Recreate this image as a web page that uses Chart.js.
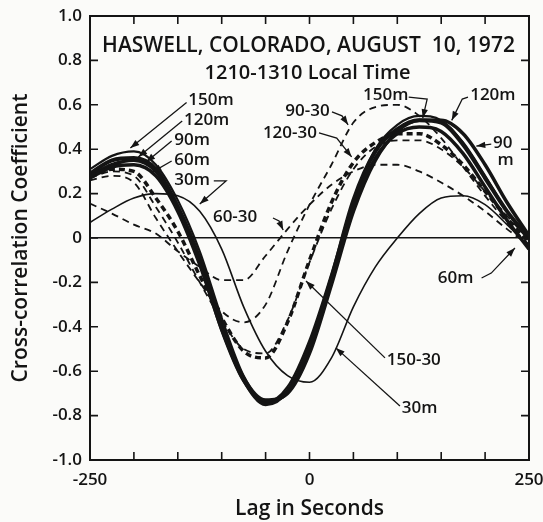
<!DOCTYPE html>
<html>
<head>
<meta charset="utf-8">
<script src="https://cdn.jsdelivr.net/npm/chart.js@4"></script>
<style>
  html, body { margin: 0; padding: 0; background: #fbfbf9; }
  #wrap { width: 543px; height: 522px; }
</style>
</head>
<body>
<div id="wrap"><canvas id="chart" width="543" height="522"></canvas></div>
<script>
// lag in seconds, shared by every curve
const lags = [-250, -225, -200, -175, -150, -125, -100, -75, -50, -25, 0, 25, 50, 75, 100, 125, 150, 175, 200, 225, 250];

// cross-correlation of each height (solid) and of the differences (dashed)
const r150m = [0.31, 0.37, 0.39, 0.33, 0.17, -0.06, -0.36, -0.62, -0.74, -0.67, -0.46, -0.16, 0.17, 0.40, 0.51, 0.55, 0.53, 0.43, 0.28, 0.12, -0.01];
const r120m = [0.29, 0.35, 0.36, 0.31, 0.14, -0.10, -0.41, -0.64, -0.74, -0.69, -0.49, -0.18, 0.17, 0.39, 0.49, 0.53, 0.52, 0.42, 0.27, 0.12, 0.00];
const r90m = [0.28, 0.33, 0.35, 0.30, 0.14, -0.09, -0.39, -0.63, -0.73, -0.70, -0.52, -0.21, 0.12, 0.35, 0.48, 0.53, 0.53, 0.47, 0.33, 0.16, 0.01];
const r60m = [0.27, 0.32, 0.33, 0.28, 0.12, -0.12, -0.41, -0.64, -0.75, -0.69, -0.49, -0.19, 0.14, 0.36, 0.47, 0.50, 0.48, 0.38, 0.23, 0.08, -0.05];
const r30m = [0.07, 0.13, 0.18, 0.20, 0.19, 0.12, -0.05, -0.31, -0.51, -0.62, -0.65, -0.54, -0.31, -0.13, 0.00, 0.11, 0.18, 0.19, 0.15, 0.06, -0.04];
const r60_30 = [0.155, 0.11, 0.06, 0.02, -0.06, -0.13, -0.19, -0.19, -0.08, 0.04, 0.15, 0.24, 0.30, 0.33, 0.33, 0.30, 0.25, 0.19, 0.12, 0.04, -0.03];
const r90_30 = [0.26, 0.28, 0.25, 0.09, -0.06, -0.20, -0.33, -0.38, -0.30, -0.06, 0.15, 0.33, 0.52, 0.59, 0.60, 0.55, 0.45, 0.32, 0.19, 0.07, -0.03];
const r120_30 = [0.27, 0.30, 0.28, 0.14, -0.02, -0.20, -0.37, -0.50, -0.52, -0.37, -0.11, 0.13, 0.31, 0.41, 0.44, 0.44, 0.40, 0.32, 0.21, 0.10, -0.01];
const r150_30 = [0.28, 0.31, 0.30, 0.18, 0.03, -0.17, -0.36, -0.51, -0.54, -0.38, -0.10, 0.16, 0.34, 0.43, 0.47, 0.47, 0.42, 0.33, 0.21, 0.09, -0.02];

const yTicks = [-1, -0.8, -0.6, -0.4, -0.2, 0, 0.2, 0.4, 0.6, 0.8, 1];
const xLabelTicks = [-250, 0, 250];

const titleLines = ['HASWELL, COLORADO, AUGUST  10, 1972', '1210-1310 Local Time'];

// curve labels: text anchor and leader line, in data units
const curveLabels = [
  { text: '150m', at: [-138, 0.62], lead: [[-140, 0.61], [-204, 0.405]] },
  { text: '120m', at: [-143, 0.53], lead: [[-145, 0.527], [-195, 0.365]] },
  { text: '90m', at: [-154, 0.44], lead: [[-157, 0.437], [-186, 0.342]] },
  { text: '60m', at: [-154, 0.35], lead: [[-157, 0.347], [-179, 0.297]] },
  { text: '30m', at: [-154, 0.26], lead: [[-109, 0.257], [-95, 0.257], [-125, 0.153]] },
  { text: '60-30', at: [-110, 0.095], lead: [[-41.6, 0.09], [-34.7, 0.077], [-30, 0.036]] },
  { text: '90-30', at: [23, 0.57], align: 'right', lead: [[25.6, 0.568], [37, 0.55], [44, 0.51]] },
  { text: '120-30', at: [8.5, 0.473], align: 'right', lead: [[10.8, 0.473], [31, 0.45], [48, 0.365]] },
  { text: '150m', at: [61, 0.644], lead: [[113, 0.635], [134, 0.626], [129, 0.54]] },
  { text: '120m', at: [183, 0.644], lead: [[180.5, 0.635], [174, 0.626], [162, 0.53]] },
  { text: '90', at: [209, 0.428], lead: [[207, 0.423], [190, 0.414]] },
  { text: 'm', at: [214, 0.35], lead: [] },
  { text: '60m', at: [146, -0.18], lead: [[196, -0.18], [207, -0.158], [234, -0.045]] },
  { text: '150-30', at: [88, -0.55], lead: [[86, -0.54], [-4, -0.194]] },
  { text: '30m', at: [105, -0.766], lead: [[103, -0.757], [30, -0.495]] }
];

const INK = '#141414';
const FONT = '"Open Sans", "DejaVu Sans", sans-serif';

function pairs(vals) {
  return lags.map((x, i) => ({ x: x, y: vals[i] }));
}

const series = [
  { label: '30m', data: r30m, width: 1.6, dash: [] },
  { label: '60-30', data: r60_30, width: 1.8, dash: [7, 5] },
  { label: '90-30', data: r90_30, width: 1.8, dash: [7, 5] },
  { label: '120-30', data: r120_30, width: 1.8, dash: [7, 5] },
  { label: '150-30', data: r150_30, width: 3.5, dash: [6, 4] },
  { label: '60m', data: r60m, width: 3.5, dash: [] },
  { label: '90m', data: r90m, width: 3.5, dash: [] },
  { label: '120m', data: r120m, width: 4, dash: [] },
  { label: '150m', data: r150m, width: 2.2, dash: [] }
];

const framePlugin = {
  id: 'frame',
  afterDraw(chart) {
    const ctx = chart.ctx;
    const a = chart.chartArea;
    const xs = chart.scales.x, ys = chart.scales.y;
    ctx.save();
    ctx.strokeStyle = INK;
    ctx.lineWidth = 2;
    ctx.strokeRect(a.left, a.top, a.right - a.left, a.bottom - a.top);

    // inward tick marks on all four sides
    ctx.lineWidth = 1.6;
    ctx.beginPath();
    xs.ticks.forEach(t => {
      const px = xs.getPixelForValue(t.value);
      ctx.moveTo(px, a.bottom); ctx.lineTo(px, a.bottom - 8);
      ctx.moveTo(px, a.top); ctx.lineTo(px, a.top + 8);
    });
    ys.ticks.forEach(t => {
      const py = ys.getPixelForValue(t.value);
      ctx.moveTo(a.left, py); ctx.lineTo(a.left + 8, py);
      ctx.moveTo(a.right, py); ctx.lineTo(a.right - 8, py);
    });
    ctx.stroke();

    // title inside the plot
    ctx.fillStyle = INK;
    ctx.textAlign = 'center';
    ctx.textBaseline = 'middle';
    const cx = (a.left + a.right) / 2;
    ctx.font = '600 21px ' + FONT;
    ctx.fillText(titleLines[0], cx - 1, a.top + 30);
    ctx.font = '600 20px ' + FONT;
    ctx.fillText(titleLines[1], cx - 2, a.top + 57);

    // curve labels with leader lines and arrow heads
    ctx.font = '600 17px ' + FONT;
    ctx.lineWidth = 1.3;
    curveLabels.forEach(l => {
      ctx.textAlign = l.align || 'left';
      ctx.fillText(l.text, xs.getPixelForValue(l.at[0]), ys.getPixelForValue(l.at[1]));
      if (l.lead.length < 2) return;
      const pts = l.lead.map(p => [xs.getPixelForValue(p[0]), ys.getPixelForValue(p[1])]);
      ctx.beginPath();
      ctx.moveTo(pts[0][0], pts[0][1]);
      pts.slice(1).forEach(p => ctx.lineTo(p[0], p[1]));
      ctx.stroke();
      const e = pts[pts.length - 1], s = pts[pts.length - 2];
      const ang = Math.atan2(e[1] - s[1], e[0] - s[0]);
      ctx.save();
      ctx.translate(e[0], e[1]);
      ctx.rotate(ang);
      ctx.beginPath();
      ctx.moveTo(0, 0);
      ctx.lineTo(-9, -3.2);
      ctx.lineTo(-9, 3.2);
      ctx.closePath();
      ctx.fill();
      ctx.restore();
    });
    ctx.restore();
  }
};

new Chart(document.getElementById('chart').getContext('2d'), {
  type: 'line',
  data: {
    datasets: series.map(s => ({
      label: s.label,
      data: pairs(s.data),
      borderColor: INK,
      borderWidth: s.width,
      borderDash: s.dash,
      pointRadius: 0,
      fill: false,
      cubicInterpolationMode: 'monotone'
    }))
  },
  options: {
    responsive: false,
    animation: false,
    layout: { padding: { left: 6, right: 14, top: 16, bottom: 0 } },
    plugins: {
      legend: { display: false },
      tooltip: { enabled: false }
    },
    scales: {
      x: {
        type: 'linear',
        min: -250,
        max: 250,
        grid: { display: false },
        border: { display: false },
        ticks: {
          stepSize: 50,
          autoSkip: false,
          maxRotation: 0,
          padding: 2,
          color: INK,
          font: { family: FONT, size: 17, weight: '600' },
          callback: v => xLabelTicks.includes(v) ? String(v) : ''
        },
        title: {
          display: true,
          text: 'Lag in Seconds',
          color: INK,
          font: { family: FONT, size: 21, weight: '600' },
          padding: { top: 4, bottom: 0 }
        },
        afterFit: s => { s.height = 62; s.paddingLeft = 0; s.paddingRight = 0; }
      },
      y: {
        min: -1,
        max: 1,
        afterBuildTicks: s => { s.ticks = yTicks.map(v => ({ value: v })); },
        grid: {
          drawTicks: false,
          color: c => c.tick && c.tick.value === 0 ? INK : 'transparent',
          lineWidth: 1.4
        },
        border: { display: false },
        ticks: {
          padding: 8,
          color: INK,
          font: { family: FONT, size: 17, weight: '600' },
          callback: v => v === 0 ? '0' : v.toFixed(1)
        },
        title: {
          display: true,
          text: 'Cross-correlation Coefficient',
          color: INK,
          font: { family: FONT, size: 21, weight: '600' },
          padding: { top: 2, bottom: 2 }
        },
        afterFit: s => { s.width = 84; s.paddingTop = 0; s.paddingBottom = 0; }
      }
    }
  },
  plugins: [framePlugin]
});
</script>
</body>
</html>
